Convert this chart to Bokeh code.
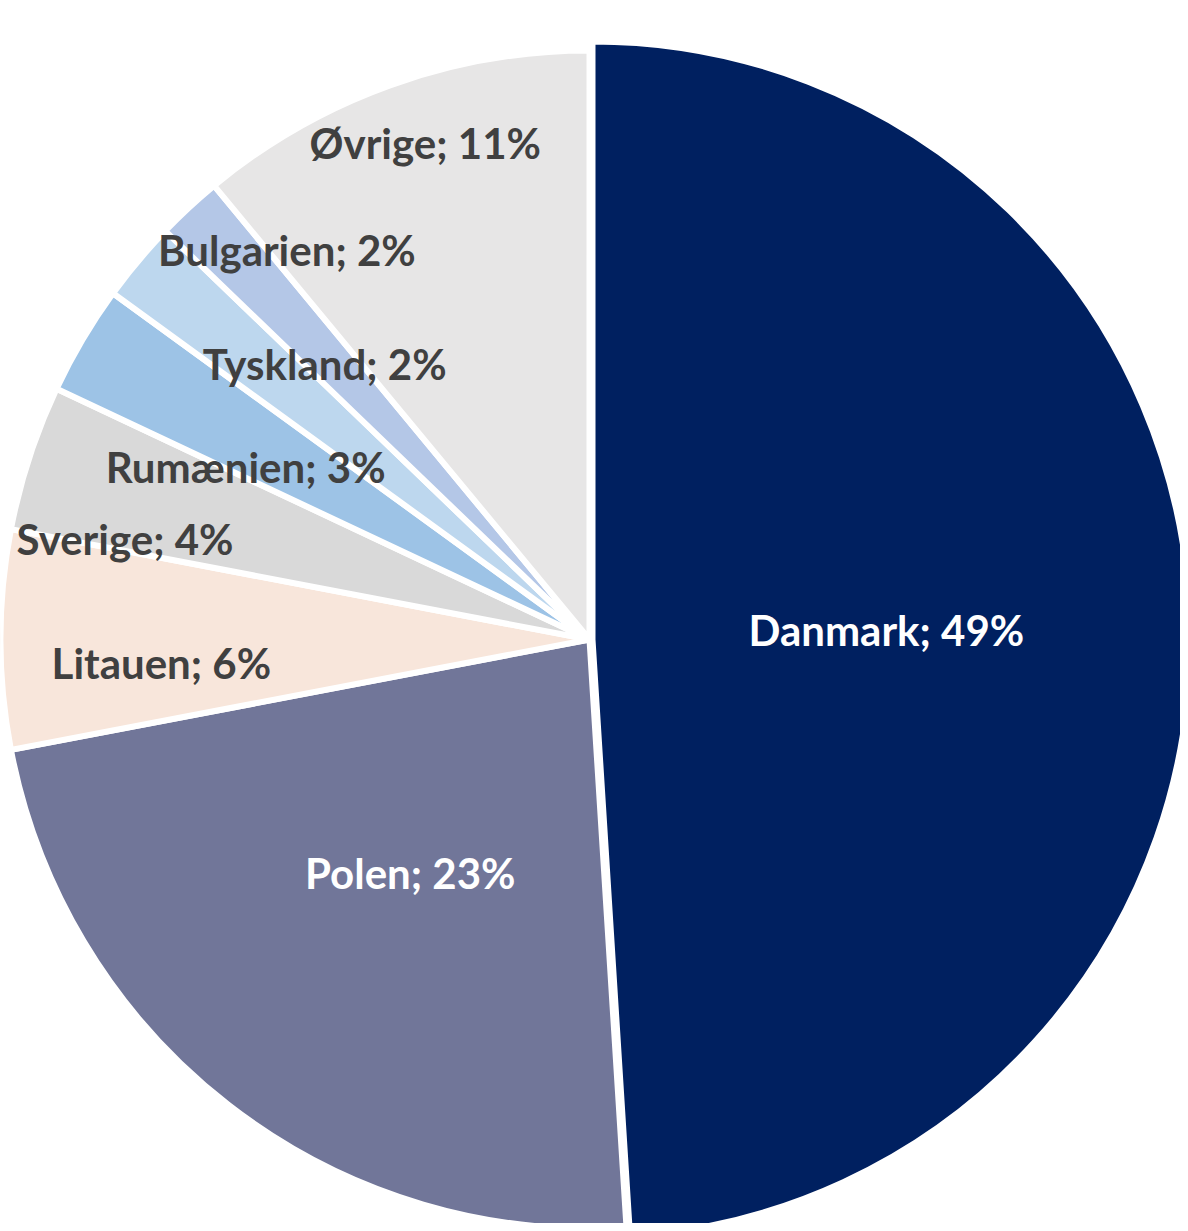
import math
from bokeh.plotting import figure
from bokeh.models import Range1d, ColumnDataSource
from bokeh.embed import file_html
from bokeh.resources import INLINE
from bokeh.core.properties import value

# ---- data ----
countries = ["Danmark", "Polen", "Litauen", "Sverige", "Rumænien", "Tyskland", "Bulgarien", "Øvrige"]
shares = [49.0, 23.0, 6.0, 4.0, 3.0, 2.2, 1.8, 11.0]
share_labels = ["49%", "23%", "6%", "4%", "3%", "2%", "2%", "11%"]

# ---- styles / layout ----
colors = ["#002060", "#717699", "#F8E6DB", "#D9D9D9", "#9DC3E6", "#BDD7EE", "#B4C7E7", "#E7E6E6"]
text_colors = ["#FFFFFF", "#FFFFFF", "#404040", "#404040", "#404040", "#404040", "#404040", "#404040"]
explode = [3, 0, 0, 0, 0, 0, 0, 0]          # px outward along bisector
radius_draw = [598, 589, 589, 589, 589, 589, 589, 589]
label_rfrac = [0.494, 0.507, 0.732, 0.81, 0.654, 0.649, 0.838, 0.888]
label_dtheta = [0.6, -0.7, -3.5, -6.1, -4.4, 5.9, 4.8, 1.4]

W, H = 1180, 1223
CX, CY = 589, 584
BORDER = 6

total = sum(shares)
xs, ys, rs, starts, ends = [], [], [], [], []
lx, ly, ltxt = [], [], []
acc = 0.0
for i, s in enumerate(shares):
    t1 = acc / total * 360.0
    acc += s
    t2 = acc / total * 360.0
    bis = (t1 + t2) / 2.0
    b = math.radians(bis)
    cx = CX + explode[i] * math.sin(b)
    cy = CY + explode[i] * math.cos(b)
    xs.append(cx)
    ys.append(cy)
    rs.append(radius_draw[i])
    starts.append(math.radians(90.0 - t2))
    ends.append(math.radians(90.0 - t1))
    rv = radius_draw[i] - BORDER / 2.0
    th = math.radians(bis + label_dtheta[i])
    lx.append(cx + label_rfrac[i] * rv * math.sin(th))
    ly.append(cy + label_rfrac[i] * rv * math.cos(th))
    ltxt.append(f"{countries[i]}; {share_labels[i]}")

src = ColumnDataSource(dict(x=xs, y=ys, r=rs, start=starts, end=ends, color=colors))
lsrc = ColumnDataSource(dict(x=lx, y=ly, text=ltxt, tc=text_colors))

p = figure(width=W, height=H, output_backend="svg", toolbar_location=None,
           x_range=Range1d(0, W), y_range=Range1d(0, H), min_border=0)
p.axis.visible = False
p.grid.visible = False
p.outline_line_color = None
p.background_fill_color = "white"
p.border_fill_color = "white"

p.wedge(x="x", y="y", radius="r", start_angle="start", end_angle="end",
        fill_color="color", line_color="white", line_width=BORDER, source=src)

p.text(x="x", y="y", text="text", text_color="tc", source=lsrc,
       text_font=value("Lato"), text_font_style="bold", text_font_size="42px",
       text_align="center", text_baseline="middle", y_offset=-3)

open("out.html", "w").write(file_html(p, INLINE))
